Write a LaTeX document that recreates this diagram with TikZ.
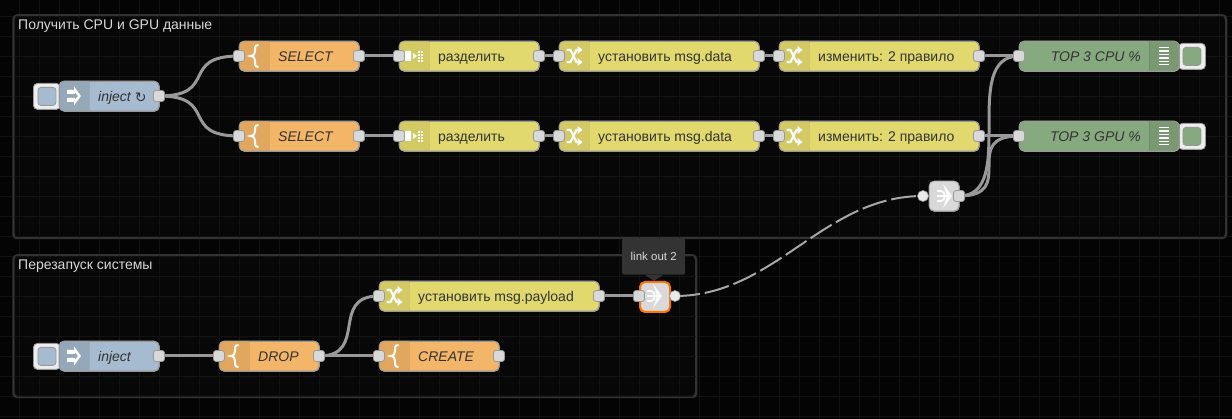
\documentclass[tikz,border=0pt]{standalone}
\usepackage{fontspec}
\setmainfont{Liberation Sans}
\definecolor{bg}{HTML}{040404}
\definecolor{grp}{HTML}{070707}
\definecolor{gridc}{HTML}{121212}
\definecolor{grpb}{HTML}{333333}
\definecolor{wirec}{HTML}{999999}
\definecolor{nbord}{HTML}{999999}
\definecolor{txt}{HTML}{333333}
\definecolor{blue}{HTML}{A6BBCF}\definecolor{blued}{HTML}{95A8BA}
\definecolor{oran}{HTML}{F3B567}\definecolor{orand}{HTML}{E2A75F}
\definecolor{yell}{HTML}{E2D96E}\definecolor{yelld}{HTML}{D3CA66}
\definecolor{gree}{HTML}{87A980}\definecolor{greed}{HTML}{7A9973}
\definecolor{lgray}{HTML}{D9D9D9}
\tikzset{
  x=1pt,y=-1pt,
  nodebody/.style={draw=nbord,line width=.8pt,rounded corners=5pt,inner sep=0pt,minimum height=30pt,anchor=north west},
  portbox/.style={draw=nbord,fill=lgray,line width=.8pt,rounded corners=2.5pt,minimum size=11pt,inner sep=0pt},
  wirecirc/.style={circle,draw=nbord,fill=white!92!black,line width=.6pt,minimum size=11pt,inner sep=0pt},
  wire/.style={draw=wirec,line width=3pt},
  linkwire/.style={draw=white!65!black,line width=2pt,dash pattern=on 25pt off 5pt},
  label/.style={font=\fontsize{14}{14}\selectfont,text=txt,inner sep=0pt},
  ilabel/.style={label,font=\fontsize{14}{14}\selectfont\itshape},
  grouptitle/.style={font=\fontsize{14}{14}\selectfont,text=white!85!black,inner sep=0pt,anchor=base west},
  groupbox/.style={draw=grpb,fill=grp,line width=1.5pt,rounded corners=4pt},
  iconline/.style={draw=white,line width=1.2pt}
}
\newcommand{\flownode}[7]{%
  \node[nodebody,fill=#5,minimum width=#4pt] (#1) at (#2,#3) {};
  \begin{scope}
    \clip[rounded corners=5pt] (#2,#3) rectangle ++(#4,30);
    \fill[#6] (#2+#7,#3) rectangle ++(30,30);
    \draw[black,opacity=.08,line width=1pt] (#2+#7,#3) -- ++(0,30) (#2+#7+30,#3) -- ++(0,30);
  \end{scope}
  \draw[nbord,line width=.8pt,rounded corners=5pt] (#2,#3) rectangle ++(#4,30);
}
\newcommand{\btn}[4]{%
  \node[draw=nbord,fill=white!93!black,line width=.8pt,rounded corners=4pt,minimum width=27pt,minimum height=26pt,inner sep=0pt,anchor=north west] (#1) at (#2,#3) {};
  \node[draw=nbord,fill=#4,line width=.8pt,rounded corners=3pt,minimum size=18pt,inner sep=0pt] at (#1.center) {};
}
\newcommand{\icarrow}[2]{\begin{scope}[shift={(#1,#2)}]
  \fill[white,even odd rule] (-7,-6) -- (0,-6) -- (0,-9.5) -- (7,0) -- (0,9.5) -- (0,6) -- (-7,6) -- (-7,2) -- (1,2) -- (1,4) -- (4,0) -- (1,-4) -- (1,-2) -- (-7,-2) -- cycle;
  \end{scope}}
\newcommand{\icbrace}[2]{\begin{scope}[shift={(#1,#2)}]
  \draw[white,line width=2pt] (4.5,-11) .. controls (0.5,-11) and (1,-8) .. (1,-5) .. controls (1,-2) and (0,-0.5) .. (-3.5,0) .. controls (0,0.5) and (1,2) .. (1,5) .. controls (1,8) and (0.5,11) .. (4.5,11);
\end{scope}}
\newcommand{\icswitch}[2]{\begin{scope}[shift={(#1,#2)}]
  \draw[iconline,line width=2.2pt] (-8,-6) -- (-4,-6) -- (2,6) -- (4,6) (-8,6) -- (-4,6) -- (2,-6) -- (4,-6);
  \fill[white] (3,-10) -- (8,-6) -- (3,-2) -- cycle (3,10) -- (8,6) -- (3,2) -- cycle;
\end{scope}}
\newcommand{\icsplit}[2]{\begin{scope}[shift={(#1,#2)}]
  \fill[white] (-9,-5) rectangle (-3,5) (-1,-3) -- (3,0) -- (-1,3) -- cycle;
  \foreach \u in {4,7}{\foreach \v in {-5,-2,1,4}{\fill[white] (\u,\v) rectangle ++(2,1.6);}}
\end{scope}}
\newcommand{\iclist}[2]{\begin{scope}[shift={(#1,#2)}]
  \foreach \v in {-9,-5.6,-2.2,1.2,4.6,8}{\fill[white] (-5,\v) rectangle ++(10,1.5);}
\end{scope}}
\newcommand{\iclink}[2]{\begin{scope}[shift={(#1,#2)}]
  \fill[white] (-1,-12) -- (8,0) -- (-1,12) -- (3,0) -- cycle;
  \draw[white,line width=1.6pt] (-7,-5) -- (-3,-5) .. controls (2,-5) and (2,5) .. (-3,5) -- (-7,5);
  \fill[white] (-7,-1) rectangle (3,1);
\end{scope}}
\begin{document}
\begin{tikzpicture}
\useasboundingbox (0,0) rectangle (1232,419);
\fill[bg] (0,0) rectangle (1232,419);
\node[groupbox,minimum width=1212pt,minimum height=222pt,inner sep=0pt,anchor=north west] (g1) at (13,15) {};
\node[groupbox,minimum width=682pt,minimum height=141pt,inner sep=0pt,anchor=north west] (g2) at (13,255) {};
\foreach \u in {19,39,...,1219}{\draw[gridc,line width=.6pt] (\u,0) -- (\u,419);}
\foreach \v in {16,36,...,416}{\draw[gridc,line width=.6pt] (0,\v) -- (1232,\v);}
\draw[grpb,line width=1.5pt,rounded corners=4pt] (g1.north west) rectangle (g1.south east);
\draw[grpb,line width=1.5pt,rounded corners=4pt] (g2.north west) rectangle (g2.south east);
\node[grouptitle] (t1) at (18,30) {Получить CPU и GPU данные};
\node[grouptitle] (t2) at (18,270) {Перезапуск системы};
\foreach \n/\x/\y in {i1o/159/96,a1i/239/56,a1o/359/56,b1i/399/56,b1o/539/56,c1i/559/56,c1o/759/56,d1i/779/56,d1o/979/56,e1i/1019/56,
  a2i/239/136,a2o/359/136,b2i/399/136,b2o/539/136,c2i/559/136,c2o/759/136,d2i/779/136,d2o/979/136,e2i/1019/136,
  lio/959/196,
  i2o/159/356,fi/219/356,fo/319/356,pi/379/296,po/599/296,li/639/296,gi/379/356,go/499/356}
  {\coordinate (\n) at (\x,\y);}
\coordinate (loc) at (675,296);
\coordinate (lic) at (923,196);
\draw[wire] (i1o) .. controls +(60,0) and +(-60,0) .. (a1i);
\draw[wire] (i1o) .. controls +(60,0) and +(-60,0) .. (a2i);
\foreach \p/\q in {a1o/b1i,b1o/c1i,c1o/d1i,d1o/e1i,a2o/b2i,b2o/c2i,c2o/d2i,d2o/e2i,i2o/fi,fo/gi,po/li}{\draw[wire] (\p) -- (\q);}
\draw[wire] (fo) .. controls +(50,0) and +(-50,0) .. (pi);
\draw[wire] (lio) .. controls +(60,0) and +(-60,0) .. (e1i);
\draw[wire] (lio) .. controls +(60,0) and +(-60,0) .. (e2i);
\draw[linkwire] (loc) .. controls +(100,0) and +(-100,0) .. (lic);
\btn{bi1}{33}{83}{blue}
\flownode{n1}{59}{81}{100}{blue}{blued}{0}
\icarrow{74}{96}
\node[ilabel,anchor=base west] (n1t) at (98,102) {inject \raisebox{-1pt}{\fontsize{14}{14}\selectfont\fontspec{DejaVu Sans}↻}};
\btn{bi2}{33}{343}{blue}
\flownode{n2}{59}{341}{100}{blue}{blued}{0}
\icarrow{74}{356}
\node[ilabel,anchor=base west] (n2t) at (98,362) {inject};
\foreach \r/\y/\tag in {1/41/CPU,2/121/GPU}{
  \flownode{sa\r}{239}{\y}{120}{oran}{orand}{0}
  \icbrace{254}{\y+15}
  \node[ilabel,anchor=base west] (sat\r) at (278,\y+21) {SELECT};
  \flownode{sb\r}{399}{\y}{140}{yell}{yelld}{0}
  \icsplit{414}{\y+15}
  \node[label,anchor=base west] (sbt\r) at (438,\y+21) {разделить};
  \flownode{sc\r}{559}{\y}{200}{yell}{yelld}{0}
  \icswitch{574.5}{\y+15}
  \node[label,anchor=base west] (sct\r) at (598,\y+21) {установить msg.data};
  \flownode{sd\r}{779}{\y}{200}{yell}{yelld}{0}
  \icswitch{794.5}{\y+15}
  \node[label,anchor=base west] (sdt\r) at (818,\y+21) {изменить: 2 правило};
  \btn{be\r}{1178}{\y+2}{gree}
  \flownode{se\r}{1019}{\y}{160}{gree}{greed}{130}
  \iclist{1164}{\y+15}
  \node[ilabel,anchor=base east] (set\r) at (1141,\y+21) {TOP 3 \tag\ \%};
}
\flownode{lk}{929}{181}{30}{lgray}{lgray}{0}
\iclink{944}{196}
\flownode{sp}{379}{281}{220}{yell}{yelld}{0}
\icswitch{394.5}{296}
\node[label,anchor=base west] (spt) at (418,302) {установить msg.payload};
\node[nodebody,draw=orange!90!red,line width=2pt,fill=lgray,minimum width=30pt] (lo) at (639,281) {};
\iclink{654}{296}
\flownode{sf}{219}{341}{100}{oran}{orand}{0}
\icbrace{234}{356}
\node[ilabel,anchor=base west] (sft) at (258,362) {DROP};
\flownode{sg}{379}{341}{120}{oran}{orand}{0}
\icbrace{394}{356}
\node[ilabel,anchor=base west] (sgt) at (418,362) {CREATE};
\fill[black!80] (645,275) -- (654,281) -- (663,275) -- cycle;
\node[fill=black!80,rounded corners=2pt,minimum width=63pt,minimum height=36pt,inner sep=0pt,text=white!85!black,font=\fontsize{11.5}{11.5}\selectfont,anchor=north west] (tip) at (622,238.5) {link out 2};
\foreach \n in {i1o,a1i,a1o,b1i,b1o,c1i,c1o,d1i,d1o,e1i,a2i,a2o,b2i,b2o,c2i,c2o,d2i,d2o,e2i,lio,i2o,fi,fo,pi,po,li,gi,go}{\node[portbox] at (\n) {};}
\node[wirecirc] at (loc) {};
\node[wirecirc] at (lic) {};
\end{tikzpicture}
\end{document}
